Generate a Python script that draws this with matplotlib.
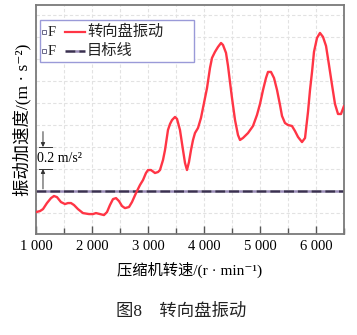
import matplotlib
matplotlib.use("Agg")
import matplotlib.pyplot as plt
from matplotlib.patches import Rectangle
from matplotlib.ticker import MultipleLocator, FuncFormatter

plt.rcParams['font.family'] = ['Liberation Serif', 'DejaVu Serif', 'Noto Sans CJK SC']
plt.rcParams['mathtext.fontset'] = 'stix'

# Steering-wheel vibration vs compressor speed
speed_rpm = [1000, 1071, 1125, 1196, 1268, 1321, 1375, 1446, 1518, 1571,
             1625, 1679, 1750, 1839, 1946, 2018, 2071, 2143, 2214, 2268,
             2321, 2375, 2429, 2482, 2536, 2589, 2661, 2714, 2786, 2857,
             2911, 2964, 3000, 3054, 3125, 3179, 3214, 3268, 3304, 3357,
             3393, 3429, 3482, 3518, 3571, 3625, 3661, 3696, 3732, 3768,
             3804, 3839, 3893, 3946, 4000, 4054, 4107, 4143, 4196, 4250,
             4304, 4339, 4393, 4429, 4464, 4500, 4554, 4607, 4643, 4696,
             4786, 4875, 4946, 5000, 5054, 5107, 5143, 5196, 5250, 5304,
             5357, 5393, 5446, 5500, 5571, 5625, 5679, 5750, 5804, 5857,
             5893, 5929, 5964, 6018, 6071, 6125, 6179, 6232, 6286, 6339,
             6393, 6446, 6500]
vibration = [-0.191, -0.182, -0.164, -0.109, -0.064, -0.045, -0.055, -0.100, -0.118, -0.109,
             -0.109, -0.127, -0.164, -0.200, -0.209, -0.209, -0.200, -0.209, -0.218, -0.191,
             -0.127, -0.073, -0.064, -0.091, -0.136, -0.155, -0.145, -0.100, -0.018, 0.055,
             0.100, 0.164, 0.191, 0.191, 0.164, 0.173, 0.191, 0.282, 0.373, 0.555,
             0.609, 0.645, 0.673, 0.655, 0.555, 0.373, 0.255, 0.191, 0.264, 0.373,
             0.464, 0.527, 0.573, 0.664, 0.800, 0.936, 1.118, 1.209, 1.264, 1.309,
             1.345, 1.327, 1.255, 1.136, 0.991, 0.845, 0.645, 0.509, 0.464, 0.482,
             0.527, 0.591, 0.691, 0.791, 0.918, 1.027, 1.082, 1.082, 1.027, 0.918,
             0.782, 0.682, 0.618, 0.600, 0.591, 0.545, 0.491, 0.445, 0.482, 0.718,
             0.918, 1.082, 1.264, 1.391, 1.436, 1.400, 1.318, 1.145, 0.964, 0.791,
             0.700, 0.700, 0.773]
target_level = 0.0
scale_bar = [0.2, 0.4]

speed_ticks = [1000, 2000, 3000, 4000, 5000, 6000]
legend_labels = ['转向盘振动', '目标线']

red = '#ff3545'
target_dark = '#3a3050'
target_gap = '#9a8cb8'

fig = plt.figure(figsize=(3.57, 3.35), dpi=100)
ax = fig.add_axes([0.1008, 0.3015, 0.8628, 0.6836])

ax.set_xlim(1000, 6500)
ax.set_ylim(-0.39, 1.69)

# light dashed grid
ax.xaxis.set_major_locator(MultipleLocator(1000))
ax.xaxis.set_minor_locator(MultipleLocator(500))
ax.yaxis.set_major_locator(MultipleLocator(0.2))
ax.grid(True, which='both', axis='x', color='#e2e2e2', lw=0.8, ls=(0, (3, 2)), zorder=0)
ax.grid(True, which='major', axis='y', color='#e2e2e2', lw=0.8, ls=(0, (3, 2)), zorder=0)

ax.axhline(target_level, color=target_dark, lw=1.8, ls=(0, (4, 1.5)),
           gapcolor=target_gap, zorder=2)
ax.plot(speed_rpm, vibration, color=red, lw=1.7, zorder=3,
        solid_capstyle='round', solid_joinstyle='round')

ax.set_xticks(speed_ticks)
ax.xaxis.set_major_formatter(FuncFormatter(lambda v, p: f"{int(v):,}".replace(',', ' ')))
ax.tick_params(axis='x', which='major', direction='in', length=6, width=1.0,
               color='#555555', labelsize=10.5, pad=4)
ax.tick_params(axis='x', which='minor', direction='in', length=4, width=1.0, color='#555555')
ax.tick_params(axis='y', which='both', left=False, labelleft=False)

for side in ['left', 'bottom', 'right', 'top']:
    ax.spines[side].set_color('#7a7a7a')
    ax.spines[side].set_linewidth(1.3)

ax.set_xlabel('压缩机转速/(r · min⁻¹)', fontsize=11, labelpad=7)
ax.set_ylabel('振动加速度/(m · s⁻²)', fontsize=12.5, labelpad=3)

# 0.2 m/s^2 scale marker
for lvl in scale_bar:
    ax.plot([1050, 1290], [lvl, lvl], color='#333333', lw=0.7, zorder=4)
ax.annotate('', xy=(1125, scale_bar[1]), xytext=(1125, 0.54),
            arrowprops=dict(arrowstyle='-|>', color='#333333', lw=0.7,
                            mutation_scale=6, shrinkA=0, shrinkB=0), zorder=4)
ax.annotate('', xy=(1125, scale_bar[0]), xytext=(1125, 0.02),
            arrowprops=dict(arrowstyle='-|>', color='#333333', lw=0.7,
                            mutation_scale=6, shrinkA=0, shrinkB=0), zorder=4)
ax.text(1010, 0.30, '0.2 m/s²', fontsize=10, va='center', ha='left', zorder=4)

# legend block
tr = ax.transAxes
ax.add_patch(Rectangle((0.013, 0.751), 0.50, 0.183, transform=tr,
                       facecolor='white', edgecolor='#9a9ad8', lw=1.0, zorder=5))
rows = [0.882, 0.799]
styles = [dict(color=red, lw=1.6, ls='-'),
          dict(color=target_dark, lw=1.8, ls=(0, (4, 1.5)), gapcolor=target_gap)]
for yy, lab, st in zip(rows, legend_labels, styles):
    ax.plot([0.027], [yy], marker='s', ms=3.5, mfc='white', mec='#6a6a8a', mew=0.7,
            transform=tr, zorder=6, clip_on=False)
    ax.text(0.037, yy, 'F', transform=tr, fontsize=10.5, va='center', ha='left',
            color='#222222', zorder=6)
    ax.plot([0.094, 0.159], [yy, yy], transform=tr, zorder=6, **st)
    ax.text(0.166, yy, lab, transform=tr, fontsize=11, va='center', ha='left',
            color='#222222', zorder=6)

fig.text(0.507, 0.070, '图8　转向盘振动', fontsize=12.5, ha='center', va='center',
         color='#222222')

fig.savefig('out.png', dpi=100)
